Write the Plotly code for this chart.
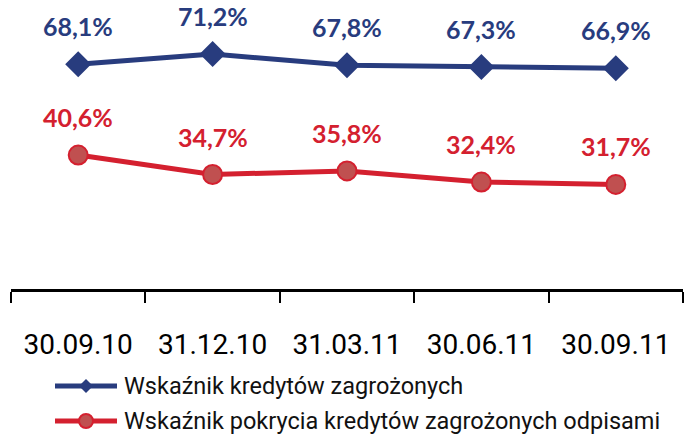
import plotly.graph_objects as go

# Quarter-end reporting dates
dates = ["30.09.10", "31.12.10", "31.03.11", "30.06.11", "30.09.11"]
# Non-performing loans ratio (%)
npl_ratio = [68.1, 71.2, 67.8, 67.3, 66.9]
# Coverage of non-performing loans by impairment allowances (%)
coverage_ratio = [40.6, 34.7, 35.8, 32.4, 31.7]

series_names = ["Wskaźnik kredytów zagrożonych",
                "Wskaźnik pokrycia kredytów zagrożonych odpisami"]

BLUE = "#283c7e"
RED = "#d4202f"
RED_FILL = "#c05050"
LABEL_FONT = "Lato"
AXIS_FONT = "Roboto"

fig = go.Figure()
fig.add_trace(go.Scatter(
    x=dates, y=npl_ratio, mode="lines+markers", name=series_names[0],
    line=dict(color=BLUE, width=5),
    marker=dict(symbol="diamond", size=20, color=BLUE),
    cliponaxis=False, showlegend=False,
))
fig.add_trace(go.Scatter(
    x=dates, y=coverage_ratio, mode="lines+markers", name=series_names[1],
    line=dict(color=RED, width=5),
    marker=dict(symbol="circle", size=19, color=RED_FILL,
                line=dict(color=RED, width=2)),
    cliponaxis=False, showlegend=False,
))

# Value labels above each point
def fmt(v):
    return f"{v:.1f}".replace(".", ",") + "%"

for vals, col in ((npl_ratio, BLUE), (coverage_ratio, RED)):
    for d, v in zip(dates, vals):
        fig.add_annotation(x=d, y=v, text=f"<b>{fmt(v)}</b>", showarrow=False,
                           yshift=38, font=dict(family=LABEL_FONT, size=25,
                                                color=col))

# Legend drawn in paper space below the axis labels
legend_rows = [(series_names[0], BLUE, "diamond"), (series_names[1], RED, "circle")]
row_y = [386, 421]  # pixel rows
PW, PH = 672, 289  # plot area size in pixels
for (name, col, sym), py in zip(legend_rows, row_y):
    yp = 1 - py / PH
    fig.add_shape(type="line", xref="paper", yref="paper",
                  x0=(55 - 11) / PW, x1=(117 - 11) / PW, y0=yp, y1=yp,
                  line=dict(color=col, width=5))
    cx = (86 - 11) / PW
    if sym == "diamond":
        fig.add_shape(type="path", xref="paper", yref="paper",
                      path=(f"M {cx - 7/PW} {yp} L {cx} {yp + 7/PH} "
                            f"L {cx + 7/PW} {yp} L {cx} {yp - 7/PH} Z"),
                      fillcolor=col, line=dict(color=col, width=0))
    else:
        fig.add_shape(type="circle", xref="paper", yref="paper",
                      x0=cx - 7/PW, x1=cx + 7/PW, y0=yp - 7/PH, y1=yp + 7/PH,
                      fillcolor=RED_FILL, line=dict(color=col, width=2))
    fig.add_annotation(xref="paper", yref="paper", x=(122 - 11) / PW, y=yp,
                       text=name, showarrow=False, xanchor="left", yanchor="middle",
                       font=dict(family=AXIS_FONT, size=23.5, color="#111111"))

fig.update_layout(
    width=684, height=437,
    margin=dict(l=11, r=1, t=0, b=148),
    paper_bgcolor="white", plot_bgcolor="white",
    showlegend=False,
)
fig.update_xaxes(
    type="category", tickson="boundaries", ticks="outside", ticklen=11,
    tickwidth=2, tickcolor="black", showline=True, linecolor="black",
    linewidth=3, showgrid=False, ticklabelstandoff=28,
    tickfont=dict(family=AXIS_FONT, size=28, color="black"),
    range=[-0.5, 4.5],
)
fig.update_yaxes(range=[0, 87.6], visible=False, showgrid=False)

fig.write_html("out.html")
